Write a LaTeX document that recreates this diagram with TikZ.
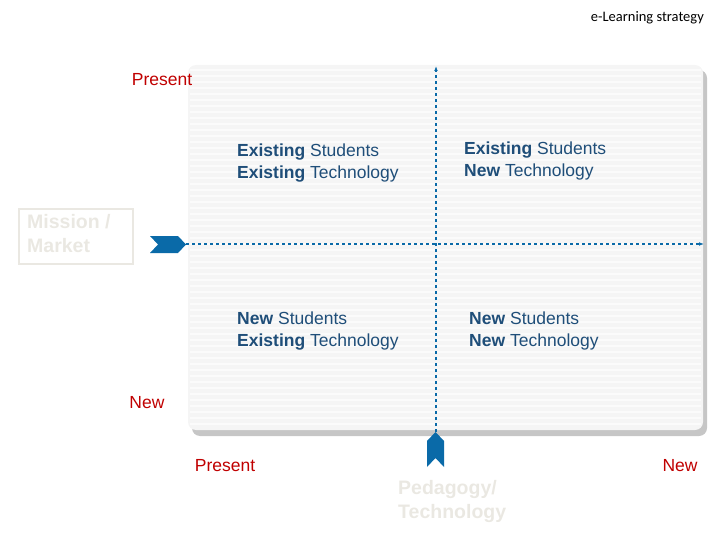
\documentclass[tikz,border=0pt]{standalone}
\usepackage{fontspec}
\setmainfont{Liberation Sans}
\newfontfamily\carl{Carlito}
\usetikzlibrary{arrows.meta,shadows}
\definecolor{qblue}{HTML}{1F4E79}
\definecolor{cblue}{HTML}{0A6AA8}
\definecolor{qred}{HTML}{C00000}
\definecolor{pale}{HTML}{EAE8E2}
\tikzset{
 qtext/.style={align=left,anchor=north west,text=qblue,inner sep=0pt,font=\fontsize{17.5}{22}\selectfont},
 rlab/.style={text=qred,font=\fontsize{17.5}{20}\selectfont},
 pal/.style={text=pale,font=\bfseries\fontsize{19.5}{24}\selectfont,align=left},
 axis/.style={cblue,dashed,line width=1.5pt,-{Latex[length=5pt]}},
 chev/.style={fill=cblue,draw=none}
}
\begin{document}
\begin{tikzpicture}[x=1pt,y=-1pt]
\useasboundingbox (0,0) rectangle (720,540);
\node[anchor=north east,inner sep=0pt,font=\carl\fontsize{14.5}{17}\selectfont] (title) at (704,11) {e-Learning strategy};
\fill[gray!45,rounded corners=8] (192,70) rectangle (707,436);
\fill[gray!8,rounded corners=8] (188,65) rectangle (703,430);
\foreach \y in {70,76,...,425} \draw[white,line width=1.5pt,opacity=0.6] (190,\y) -- (701,\y);
\coordinate (vb) at (436,432); \coordinate (vt) at (436,66);
\coordinate (hl) at (186,244); \coordinate (hr) at (704,244);
\draw[axis] (vb) -- (vt);
\draw[axis] (hl) -- (hr);
\fill[chev] (150,236) -- (178,236) -- (186,244.5) -- (178,253) -- (150,253) -- (158,244.5) -- cycle;
\fill[chev] (427,467) -- (427,441) -- (435.5,432) -- (444,441) -- (444,467) -- (435.5,458) -- cycle;
\node[qtext] (q1) at (237,144) {\textbf{Existing} Students\\\textbf{Existing} Technology};
\node[qtext] (q2) at (464,142) {\textbf{Existing} Students\\\textbf{New} Technology};
\node[qtext] (q3) at (237,312) {\textbf{New} Students\\\textbf{Existing} Technology};
\node[qtext] (q4) at (469,312) {\textbf{New} Students\\\textbf{New} Technology};
\node[rlab] (p1) at (162,80) {Present};
\node[rlab] (n1) at (147,403) {New};
\node[rlab] (p2) at (225,466) {Present};
\node[rlab] (n2) at (680,466) {New};
\draw[pale,line width=2pt] (19,209) rectangle (133,264);
\node[pal,anchor=north west,inner sep=0pt] (mm) at (27,214) {Mission /\\Market};
\node[pal,anchor=north west,inner sep=0pt] (pt) at (398,480) {Pedagogy/\\Technology};
\end{tikzpicture}
\end{document}
